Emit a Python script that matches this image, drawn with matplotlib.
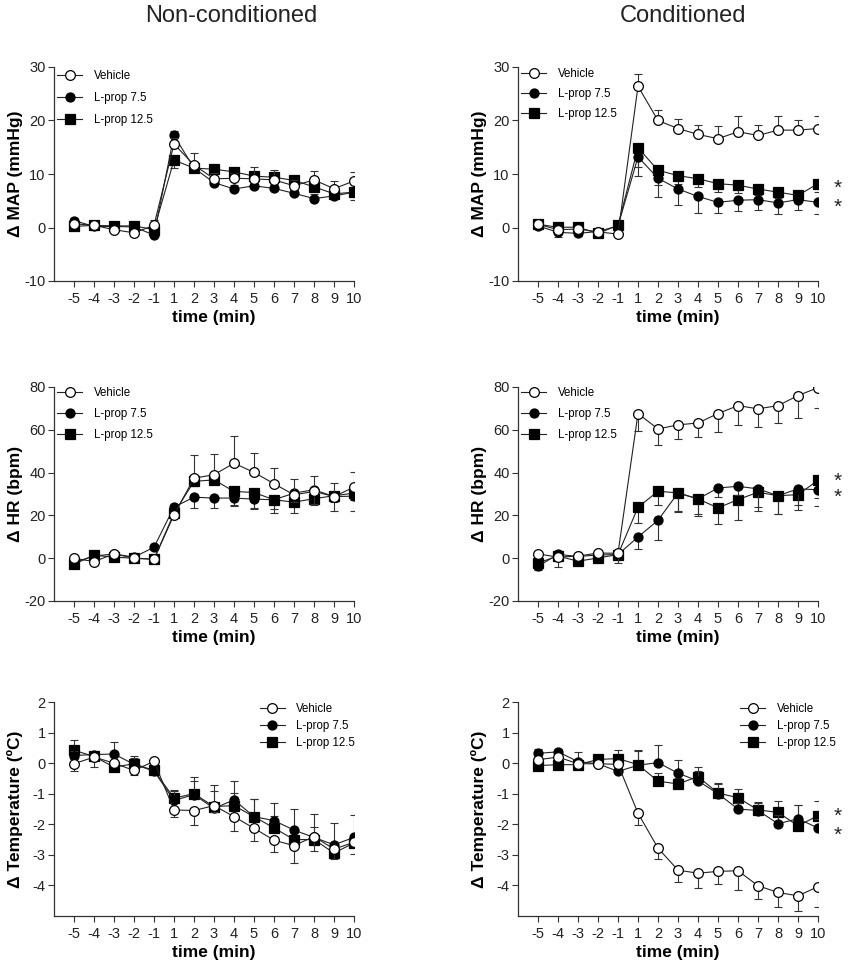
import numpy as np
import matplotlib
matplotlib.use("Agg")
import matplotlib.pyplot as plt
from matplotlib.lines import Line2D
from matplotlib.font_manager import FontProperties

plt.rcParams['font.family'] = ['Liberation Sans', 'DejaVu Sans']

# ---------------- data ----------------
times = ['-5', '-4', '-3', '-2', '-1', '1', '2', '3', '4', '5', '6', '7', '8', '9', '10']
groups = ['Vehicle', 'L-prop 7.5', 'L-prop 12.5']
col_titles = ['Non-conditioned', 'Conditioned']

# MAP, non-conditioned
map_nc_vehicle = [0.7, 0.4, -0.4, -1.0, 0.4, 15.6, 11.7, 9.1, 9.2, 9.1, 8.9, 7.8, 8.9, 7.25, 8.7]
map_nc_vehicle_err = [0.3, 0.3, 0.3, 0.3, 1.0, 1.2, 2.2, 1.0, 1.0, 2.3, 1.9, 1.0, 1.7, 1.5, 1.6]
map_nc_lp75 = [1.3, 0.2, 0.2, 0.1, -1.4, 17.2, 11.1, 8.4, 7.2, 7.8, 7.3, 6.4, 5.4, 5.9, 6.6]
map_nc_lp75_err = [0.4, 0.3, 0.3, 0.3, 0.5, 0.8, 0.8, 0.8, 0.8, 0.8, 0.8, 0.8, 0.8, 0.8, 0.8]
map_nc_lp125 = [0.2, 0.4, 0.3, 0.3, -0.4, 12.6, 11.1, 10.9, 10.4, 9.6, 9.4, 8.8, 7.6, 6.3, 6.6]
map_nc_lp125_err = [0.4, 0.3, 0.3, 0.3, 0.5, 1.5, 0.8, 0.8, 0.8, 0.8, 0.8, 0.8, 0.8, 0.8, 1.5]

# MAP, conditioned
map_c_vehicle = [0.6, -0.4, -0.3, -0.8, -1.25, 26.4, 20.0, 18.5, 17.4, 16.6, 17.9, 17.2, 18.2, 18.2, 18.5]
map_c_vehicle_err = [0.5, 0.5, 0.5, 0.4, 0.3, 2.2, 1.9, 1.8, 1.8, 2.3, 2.9, 2.0, 2.6, 1.8, 2.3]
map_c_lp75 = [0.3, -0.9, -1.1, -0.75, 0.3, 13.2, 9.2, 7.2, 5.8, 4.7, 5.1, 5.2, 4.6, 5.2, 4.7]
map_c_lp75_err = [0.4, 0.8, 0.5, 0.4, 0.4, 3.6, 3.5, 3.0, 3.0, 2.0, 2.1, 1.9, 2.0, 1.9, 2.2]
map_c_lp125 = [0.6, 0.05, 0.05, -1.1, 0.4, 14.9, 10.7, 9.7, 9.1, 8.2, 7.9, 7.2, 6.6, 6.0, 8.2]
map_c_lp125_err = [0.4, 0.4, 0.4, 0.4, 0.4, 3.6, 2.7, 1.5, 1.5, 1.5, 1.5, 1.2, 1.0, 1.0, 1.5]
map_c_stars = [8.0, 4.4]

# HR, non-conditioned
hr_nc_vehicle = [0.0, -1.6, 2.0, 0.0, -0.5, 20.3, 37.4, 39.0, 44.4, 40.1, 34.8, 29.6, 31.2, 28.8, 33.2]
hr_nc_vehicle_err = [1.0, 1.0, 1.5, 1.0, 1.0, 1.5, 10.6, 9.7, 12.5, 9.0, 7.3, 7.5, 7.0, 6.3, 7.0]
hr_nc_lp75 = [-2.0, 1.0, 2.0, 0.5, 5.1, 23.9, 28.5, 28.1, 28.1, 27.6, 27.3, 30.4, 32.0, 28.8, 29.0]
hr_nc_lp75_err = [1.0, 1.0, 1.0, 1.0, 1.0, 1.5, 5.1, 4.7, 3.9, 4.3, 4.5, 4.0, 6.6, 6.7, 6.9]
hr_nc_lp125 = [-2.8, 1.4, 0.5, 0.0, -0.5, 21.0, 35.9, 36.6, 31.2, 30.7, 27.3, 26.2, 27.8, 29.2, 30.4]
hr_nc_lp125_err = [1.0, 1.0, 1.0, 1.0, 1.0, 1.5, 2.0, 2.0, 6.2, 7.6, 6.3, 5.2, 2.8, 3.0, 3.0]

# HR, conditioned
hr_c_vehicle = [2.0, 0.5, 1.0, 2.4, 2.3, 67.6, 60.4, 62.3, 63.2, 67.6, 71.3, 69.8, 71.3, 76.0, 79.7]
hr_c_vehicle_err = [1.0, 4.7, 1.0, 1.0, 4.5, 8.3, 7.6, 6.6, 6.5, 8.6, 9.2, 8.6, 8.1, 10.4, 9.5]
hr_c_lp75 = [-3.8, 1.8, 0.8, 1.5, 1.7, 9.9, 17.7, 30.5, 27.7, 32.8, 33.6, 32.4, 29.2, 32.4, 32.0]
hr_c_lp75_err = [1.5, 1.0, 1.0, 1.0, 2.0, 5.6, 9.3, 9.0, 7.0, 4.0, 4.0, 10.5, 8.4, 9.7, 7.8]
hr_c_lp125 = [-2.2, 1.0, -1.4, 0.1, 1.7, 23.8, 31.3, 30.5, 27.7, 23.5, 27.4, 30.8, 29.2, 29.7, 36.4]
hr_c_lp125_err = [3.0, 1.0, 1.0, 1.0, 2.0, 7.5, 6.6, 8.3, 8.0, 7.5, 9.7, 7.0, 8.4, 5.0, 8.3]
hr_c_stars = [37.0, 30.2]

# Temperature, non-conditioned
t_nc_vehicle = [-0.02, 0.2, 0.0, -0.24, 0.06, -1.53, -1.55, -1.39, -1.75, -2.13, -2.52, -2.7, -2.4, -2.81, -2.59]
t_nc_vehicle_err = [0.24, 0.33, 0.1, 0.16, 0.1, 0.24, 0.46, 0.2, 0.46, 0.43, 0.38, 0.56, 0.47, 0.33, 0.37]
t_nc_lp75 = [0.25, 0.28, 0.3, -0.04, -0.26, -1.22, -1.03, -1.48, -1.2, -1.75, -1.88, -2.19, -2.43, -2.67, -2.43]
t_nc_lp75_err = [0.15, 0.1, 0.39, 0.2, 0.1, 0.3, 0.46, 0.75, 0.63, 0.58, 0.57, 0.69, 0.77, 0.7, 0.75]
t_nc_lp125 = [0.42, 0.22, -0.13, -0.02, -0.24, -1.14, -1.0, -1.42, -1.39, -1.75, -2.12, -2.5, -2.5, -2.94, -2.61]
t_nc_lp125_err = [0.33, 0.1, 0.1, 0.27, 0.1, 0.27, 0.56, 0.5, 0.4, 0.58, 0.4, 0.3, 0.42, 0.2, 0.2]

# Temperature, conditioned
t_c_vehicle = [0.11, 0.2, -0.02, -0.02, -0.04, -1.64, -2.78, -3.5, -3.6, -3.54, -3.52, -4.01, -4.23, -4.34, -4.04]
t_c_vehicle_err = [0.1, 0.1, 0.1, 0.05, 0.1, 0.37, 0.35, 0.4, 0.5, 0.42, 0.62, 0.44, 0.49, 0.49, 0.65]
t_c_lp75 = [0.32, 0.37, 0.05, -0.02, -0.27, -0.07, 0.02, -0.33, -0.58, -1.0, -1.5, -1.55, -1.98, -1.82, -2.12]
t_c_lp75_err = [0.15, 0.1, 0.3, 0.1, 0.1, 0.46, 0.56, 0.44, 0.33, 0.34, 0.2, 0.25, 0.3, 0.45, 0.3]
t_c_lp125 = [-0.08, -0.05, -0.05, 0.12, 0.15, -0.05, -0.59, -0.68, -0.44, -0.98, -1.13, -1.53, -1.61, -2.05, -1.72]
t_c_lp125_err = [0.1, 0.1, 0.1, 0.1, 0.29, 0.47, 0.27, 0.2, 0.3, 0.3, 0.29, 0.25, 0.36, 0.67, 0.47]
t_c_stars = [-1.65, -2.26]

# ---------------- figure ----------------
fig = plt.figure(figsize=(8.5, 9.66), dpi=100)
W, H = 850, 966
renderer = fig.canvas.get_renderer()

def rect(left, top, right, bottom):
    return [left / W, 1 - bottom / H, (right - left) / W, (bottom - top) / H]

col_x = [(54, 354), (518, 818)]
row_y = [(67, 281), (387, 601), (702, 916)]
title_x = [231, 683]

panels = [
    (0, 0, [map_nc_vehicle, map_nc_lp75, map_nc_lp125],
     [map_nc_vehicle_err, map_nc_lp75_err, map_nc_lp125_err], [1, 1, -1],
     'Δ MAP (mmHg)', (-10, 30), [-10, 0, 10, 20, 30], (0.01, 0.985), 0.85, None),
    (0, 1, [map_c_vehicle, map_c_lp75, map_c_lp125],
     [map_c_vehicle_err, map_c_lp75_err, map_c_lp125_err], [1, -1, -1],
     'Δ MAP (mmHg)', (-10, 30), [-10, 0, 10, 20, 30], (0.01, 0.995), 0.7, map_c_stars),
    (1, 0, [hr_nc_vehicle, hr_nc_lp75, hr_nc_lp125],
     [hr_nc_vehicle_err, hr_nc_lp75_err, hr_nc_lp125_err], [1, -1, -1],
     'Δ HR (bpm)', (-20, 80), [-20, 0, 20, 40, 60, 80], (0.01, 1.0), 0.8, None),
    (1, 1, [hr_c_vehicle, hr_c_lp75, hr_c_lp125],
     [hr_c_vehicle_err, hr_c_lp75_err, hr_c_lp125_err], [-1, -1, -1],
     'Δ HR (bpm)', (-20, 80), [-20, 0, 20, 40, 60, 80], (0.01, 1.0), 0.8, hr_c_stars),
    (2, 0, [t_nc_vehicle, t_nc_lp75, t_nc_lp125],
     [t_nc_vehicle_err, t_nc_lp75_err, t_nc_lp125_err], [-1, 1, 1],
     'Δ Temperature (ºC)', (-5, 2), [-4, -3, -2, -1, 0, 1, 2], (0.685, 0.995), 0.45, None),
    (2, 1, [t_c_vehicle, t_c_lp75, t_c_lp125],
     [t_c_vehicle_err, t_c_lp75_err, t_c_lp125_err], [-1, 1, 1],
     'Δ Temperature (ºC)', (-5, 2), [-4, -3, -2, -1, 0, 1, 2], (0.74, 0.995), 0.45, t_c_stars),
]

styles = [
    dict(marker='o', mfc='white', mec='black', ms=7, zorder=5),
    dict(marker='o', mfc='black', mec='black', ms=6.5, zorder=4),
    dict(marker='s', mfc='black', mec='black', ms=6.5, zorder=3),
]
line_col = '#222222'
x = np.arange(len(times))
star_fs = 15
star_prop = FontProperties(family=['Liberation Sans', 'DejaVu Sans'], size=star_fs)

for (r, c, series, errs, dirs, ylabel, ylim, yticks, lanchor, lspace, stars) in panels:
    l, rr = col_x[c]
    t, b = row_y[r]
    ax = fig.add_axes(rect(l, t, rr, b))
    for ys, es, d, st in zip(series, errs, dirs, styles):
        es = np.asarray(es)
        zero = np.zeros_like(es)
        yerr = [zero, es] if d > 0 else [es, zero]
        ax.errorbar(x, ys, yerr=yerr, fmt='none', ecolor='#333333', elinewidth=0.8,
                    capsize=3.2, capthick=0.8, zorder=st['zorder'] - 0.5)
        ax.plot(x, ys, color=line_col, lw=0.8, marker=st['marker'], ms=st['ms'],
                mfc=st['mfc'], mec=st['mec'], mew=0.9, zorder=st['zorder'])
    ax.set_xlim(-1, len(times) - 1)
    ax.set_ylim(*ylim)
    ax.set_yticks(yticks)
    ax.set_yticklabels([str(v) for v in yticks])
    ax.set_xticks(x)
    ax.set_xticklabels(times)
    for s in ['top', 'right']:
        ax.spines[s].set_visible(False)
    for s in ['left', 'bottom']:
        ax.spines[s].set_color('#333333')
        ax.spines[s].set_linewidth(0.9)
    ax.tick_params(axis='both', direction='out', length=4, width=0.8, color='#333333',
                   labelsize=10.5, labelcolor='#222222', pad=2)
    ax.tick_params(axis='x', pad=4)
    ax.set_xlabel('time (min)', fontsize=12.5, fontweight='bold', labelpad=3)
    ax.xaxis.label.set_x((len(times) - 1) / 2 / len(times) + 1 / len(times))
    ax.set_ylabel(ylabel, fontsize=12.5, fontweight='bold')
    ax.yaxis.set_label_coords(-0.103, 0.5)

    handles = [Line2D([0], [0], color=line_col, lw=0.8, marker=st['marker'], ms=st['ms'],
                      mfc=st['mfc'], mec=st['mec'], mew=0.9) for st in styles]
    ax.legend(handles, groups, loc='upper left', bbox_to_anchor=lanchor, frameon=False,
              fontsize=8.3, handlelength=2.2, handletextpad=1.0, labelspacing=lspace,
              borderpad=0, borderaxespad=0)

    if stars is not None:
        # two asterisks drawn as one two-line text, line gap matched to their data positions
        p_top = ax.transData.transform((x[-1], stars[0]))[1]
        p_bot = ax.transData.transform((x[-1], stars[1]))[1]
        gap_px = p_top - p_bot
        _, lp_h, _ = renderer.get_text_width_height_descent('lp', star_prop, ismath=False)
        ax.annotate('*\n*', xy=(x[-1], (stars[0] + stars[1]) / 2), xytext=(14.5, -2.3),
                    textcoords='offset points', ha='center', va='center',
                    fontproperties=star_prop, linespacing=gap_px / lp_h, color='#222222',
                    annotation_clip=False)

    if r == 0:
        fig.text(title_x[c] / W, 1 - 16 / H, col_titles[c], ha='center', va='center',
                 fontsize=17, color='#222222')

fig.savefig('out.png', dpi=100)
